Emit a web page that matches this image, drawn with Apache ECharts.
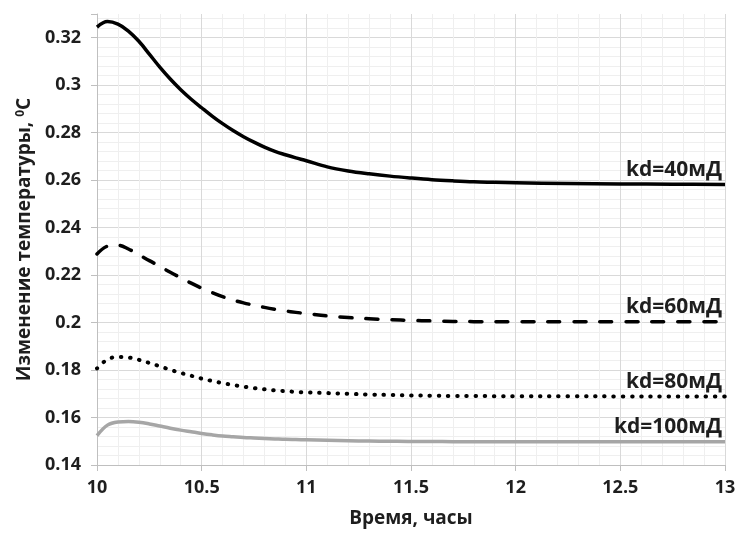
<!DOCTYPE html>
<html><head><meta charset="utf-8">
<script src="https://cdn.jsdelivr.net/npm/echarts@6/dist/echarts.min.js"></script>
<style>html,body{margin:0;padding:0;background:#fff}#c{width:739px;height:533px}</style>
</head><body><div id="c"></div>
<script>
var seriesNames = ['kd=40мД', 'kd=60мД', 'kd=80мД', 'kd=100мД'];
var times = [10, 10.05, 10.1, 10.15, 10.2, 10.25, 10.3, 10.35, 10.4, 10.45, 10.5, 10.55, 10.6, 10.65, 10.7, 10.75, 10.8, 10.85, 10.9, 10.95, 11,
  11.1, 11.2, 11.3, 11.4, 11.5, 11.6, 11.7, 11.8, 11.9, 12, 12.25, 12.5, 12.75, 13];
var kd40 = [0.3245, 0.3268, 0.3257, 0.3228, 0.3185, 0.3131, 0.3076, 0.3026, 0.2981, 0.2941, 0.2905, 0.2870, 0.2838, 0.2809, 0.2783, 0.2760, 0.2739, 0.2721, 0.2707, 0.2694, 0.2682,
  0.2656, 0.2639, 0.2627, 0.2617, 0.2609, 0.2602, 0.2597, 0.2593, 0.2591, 0.2589, 0.2586, 0.2584, 0.2583, 0.2582];
var kd60 = [0.2289, 0.2322, 0.2326, 0.2310, 0.2286, 0.2261, 0.2237, 0.2212, 0.2189, 0.2166, 0.2145, 0.2126, 0.2109, 0.2095, 0.2083, 0.2073, 0.2064, 0.2056, 0.2049, 0.2043, 0.2038,
  0.2028, 0.2021, 0.2016, 0.2012, 0.2009, 0.2007, 0.2005, 0.2004, 0.2004, 0.2003, 0.2003, 0.2003, 0.2003, 0.2003];
var kd80 = [0.1807, 0.1845, 0.1855, 0.1853, 0.1843, 0.1830, 0.1816, 0.1801, 0.1788, 0.1776, 0.1764, 0.1754, 0.1745, 0.1737, 0.1730, 0.1724, 0.1719, 0.1714, 0.1711, 0.1708, 0.1706,
  0.1703, 0.1700, 0.1697, 0.1695, 0.1693, 0.1692, 0.1691, 0.1691, 0.1690, 0.1690, 0.1690, 0.1689, 0.1689, 0.1689];
var kd100 = [0.1524, 0.1568, 0.1581, 0.1583, 0.1580, 0.1573, 0.1564, 0.1555, 0.1547, 0.1540, 0.1533, 0.1527, 0.1522, 0.1519, 0.1516, 0.1514, 0.1512, 0.1510, 0.1508, 0.1507, 0.1506,
  0.1504, 0.1502, 0.1501, 0.1500, 0.1499, 0.1499, 0.1498, 0.1498, 0.1498, 0.1498, 0.1498, 0.1498, 0.1498, 0.1498];
var yTicks = [0.14, 0.16, 0.18, 0.2, 0.22, 0.24, 0.26, 0.28, 0.3, 0.32];

var FONT = 'Open Sans';
var TXT = '#1e1e1e';
function pairs(vals) { return times.map(function (t, i) { return [t, vals[i]]; }); }
var styles = [
  { color: '#000', width: 3.5, type: 'solid' },
  { color: '#000', width: 3.5, type: [12, 14], cap: 'round' },
  { color: '#000', width: 4, type: [0.5, 8.7], cap: 'round' },
  { color: '#a6a6a6', width: 3.5, type: 'solid' }
];
var all = [kd40, kd60, kd80, kd100];
var series = all.map(function (vals, i) {
  var s = styles[i];
  return {
    name: seriesNames[i], type: 'line', data: pairs(vals), showSymbol: false, symbol: 'none',
    smooth: 0.35,
    lineStyle: { color: s.color, width: s.width, type: s.type, cap: s.cap || 'butt', join: 'round' },
    markPoint: {
      symbol: 'circle', symbolSize: 0, silent: true,
      data: [{ coord: [13, vals[vals.length - 1]] }],
      label: { show: true, formatter: seriesNames[i], position: [-3, -4], align: 'right', verticalAlign: 'bottom',
        fontFamily: FONT, fontWeight: 'bold', fontSize: 21, color: TXT }
    },
    z: 3
  };
});
var splitColors = yTicks.map(function () { return '#d9d9d9'; }).concat(['rgba(0,0,0,0)']);
var chart = echarts.init(document.getElementById('c'), null, { renderer: 'canvas' });
chart.setOption({
  animation: false,
  backgroundColor: '#fff',
  grid: { left: 97, right: 14, top: 14, bottom: 66, containLabel: false },
  xAxis: {
    type: 'value', min: 10, max: 13, interval: 0.5,
    name: 'Время, часы', nameLocation: 'middle', nameGap: 44,
    nameTextStyle: { fontFamily: FONT, fontWeight: 'bold', fontSize: 19, color: TXT },
    axisLine: { show: true, lineStyle: { color: '#bfbfbf', width: 1 } },
    axisTick: { show: true, inside: false, length: 6, lineStyle: { color: '#bfbfbf' } },
    axisLabel: { fontFamily: FONT, fontWeight: 'bold', fontSize: 18, color: TXT, margin: 14 },
    splitLine: { show: true, lineStyle: { color: '#d9d9d9', width: 1 } },
    minorTick: { show: false, splitNumber: 5 },
    minorSplitLine: { show: true, lineStyle: { color: '#efefef', width: 1 } }
  },
  yAxis: {
    type: 'value', min: 0.14, max: 0.33, interval: 0.02,
    name: 'Изменение температуры, {sup|0}C', nameLocation: 'middle', nameGap: 62,
    nameTextStyle: { fontFamily: FONT, fontWeight: 'bold', fontSize: 19, color: TXT,
      rich: { sup: { fontFamily: FONT, fontWeight: 'bold', fontSize: 12, color: TXT, verticalAlign: 'top', padding: [0, 0, 8, 0] } } },
    axisLine: { show: true, lineStyle: { color: '#bfbfbf', width: 1 } },
    axisTick: { show: true, inside: false, length: 6, lineStyle: { color: '#bfbfbf' } },
    axisLabel: { fontFamily: FONT, fontWeight: 'bold', fontSize: 18, color: TXT, margin: 16,
      formatter: function (v) { return v > 0.325 ? '' : String(+v.toFixed(2)); } },
    splitLine: { show: true, lineStyle: { color: splitColors, width: 1 } },
    minorTick: { show: false, splitNumber: 5 },
    minorSplitLine: { show: true, lineStyle: { color: '#efefef', width: 1 } }
  },
  series: series
});
</script></body></html>
